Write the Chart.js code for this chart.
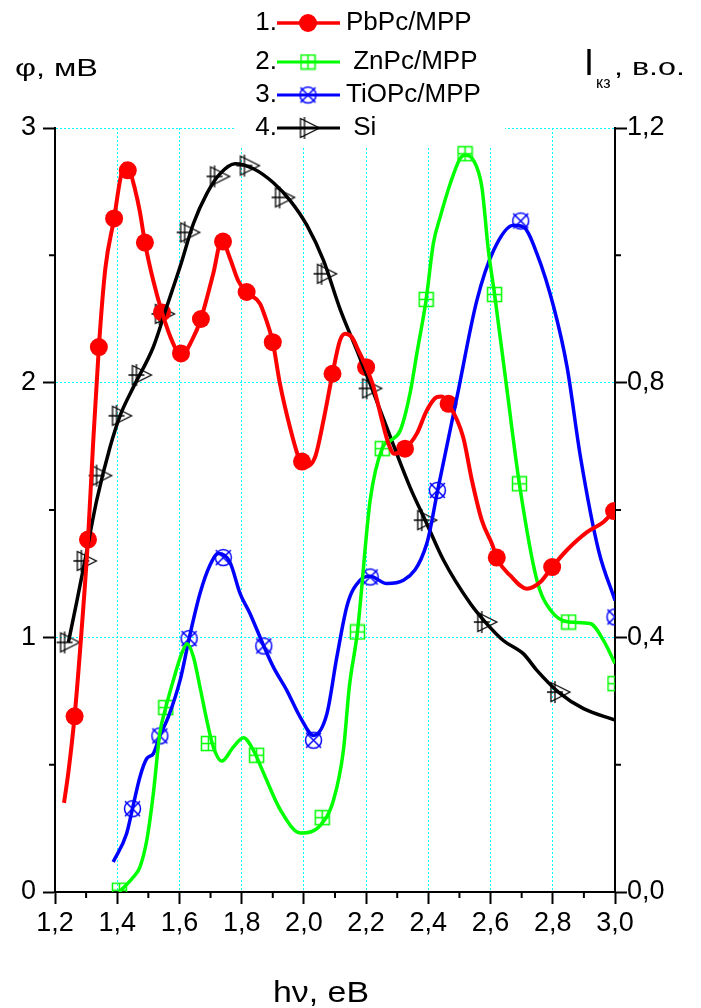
<!DOCTYPE html>
<html>
<head>
<meta charset="utf-8">
<title>hv spectra</title>
<script src="https://cdn.jsdelivr.net/npm/chart.js"></script>
<style>
body{margin:0;background:#fff;}
#wrap{width:701px;height:1008px;}
</style>
</head>
<body>
<div id="wrap"><canvas id="myChart" width="701" height="1008"></canvas></div>
<script>
// 1. PbPc/MPP  (phi, mV)
const pbMarkX = [1.263,1.306,1.341,1.390,1.434,1.489,1.544,1.605,1.669,1.740,1.816,1.900,1.994,2.092,2.200,2.325,2.465,2.620,2.798,2.997];
const pbMarkY = [0.69,1.384,2.14,2.645,2.834,2.55,2.276,2.115,2.25,2.554,2.356,2.159,1.69,2.035,2.061,1.741,1.917,1.313,1.276,1.496];
const pbLineX = [1.229,1.243,1.263,1.285,1.306,1.322,1.341,1.362,1.390,1.410,1.425,1.437,1.455,1.473,1.489,1.516,1.544,1.580,1.605,1.640,1.669,1.709,1.736,1.762,1.789,1.816,1.859,1.875,1.900,1.923,1.955,1.985,2.004,2.036,2.063,2.092,2.116,2.133,2.154,2.175,2.200,2.224,2.251,2.272,2.290,2.325,2.363,2.395,2.427,2.443,2.465,2.512,2.540,2.572,2.604,2.625,2.663,2.717,2.760,2.798,2.845,2.910,2.963,3.0];
const pbLineY = [0.35,0.47,0.69,1.02,1.384,1.75,2.14,2.45,2.645,2.80,2.86,2.845,2.77,2.67,2.55,2.40,2.276,2.153,2.105,2.166,2.25,2.43,2.56,2.49,2.40,2.356,2.31,2.26,2.159,1.996,1.826,1.70,1.669,1.708,1.852,2.035,2.166,2.192,2.179,2.127,2.061,1.983,1.852,1.76,1.721,1.741,1.80,1.891,1.943,1.946,1.917,1.786,1.617,1.459,1.368,1.30,1.243,1.191,1.217,1.276,1.342,1.413,1.453,1.50];

// 2. ZnPc/MPP
const znMarkX = [1.407,1.556,1.693,1.848,2.059,2.172,2.252,2.393,2.518,2.613,2.693,2.851,3.0];
const znMarkY = [0.007,0.724,0.583,0.537,0.292,1.021,1.741,2.327,2.899,2.346,1.603,1.06,0.818];
const znLineX = [1.406,1.452,1.473,1.495,1.516,1.537,1.556,1.580,1.607,1.625,1.645,1.666,1.688,1.709,1.736,1.773,1.806,1.838,1.871,1.925,1.989,2.053,2.095,2.127,2.146,2.172,2.213,2.252,2.280,2.310,2.341,2.363,2.393,2.416,2.438,2.470,2.502,2.518,2.545,2.572,2.593,2.613,2.653,2.693,2.749,2.793,2.851,2.920,2.963,3.0];
const znLineY = [0.0,0.059,0.098,0.203,0.386,0.623,0.724,0.83,0.936,0.975,0.923,0.805,0.674,0.569,0.514,0.569,0.606,0.556,0.465,0.321,0.232,0.262,0.36,0.556,0.805,1.021,1.538,1.743,1.774,1.813,1.957,2.114,2.327,2.546,2.65,2.78,2.88,2.893,2.873,2.768,2.52,2.346,1.97,1.60,1.224,1.106,1.06,1.054,0.988,0.897];

// 3. TiOPc/MPP
const tiMarkX = [1.449,1.537,1.631,1.741,1.871,2.031,2.213,2.429,2.697,3.0];
const tiMarkY = [0.327,0.613,0.995,1.313,0.966,0.596,1.237,1.577,2.635,1.08];
const tiLineX = [1.387,1.430,1.449,1.473,1.495,1.516,1.537,1.564,1.602,1.631,1.666,1.698,1.725,1.762,1.795,1.827,1.871,1.902,1.945,1.988,2.031,2.074,2.106,2.140,2.180,2.213,2.266,2.320,2.395,2.430,2.492,2.556,2.610,2.674,2.706,2.749,2.803,2.846,2.889,2.947,3.0];
const tiLineY = [0.118,0.229,0.327,0.452,0.524,0.543,0.613,0.687,0.831,0.995,1.172,1.283,1.329,1.296,1.172,1.093,0.966,0.883,0.792,0.687,0.615,0.70,0.923,1.13,1.224,1.24,1.211,1.224,1.368,1.577,1.943,2.323,2.52,2.618,2.611,2.507,2.297,2.061,1.708,1.342,1.145];

// 4. Si  (I_kz, rel. units, right axis)
const siMarkX = [1.242,1.296,1.345,1.409,1.473,1.547,1.628,1.724,1.820,1.933,2.068,2.213,2.390,2.583,2.818];
const siMarkY = [0.392,0.520,0.654,0.748,0.812,0.908,1.036,1.124,1.141,1.091,0.971,0.791,0.584,0.424,0.314];
const siLineX = [1.243,1.270,1.296,1.334,1.377,1.409,1.452,1.516,1.559,1.602,1.645,1.688,1.730,1.779,1.838,1.902,1.956,2.010,2.063,2.116,2.170,2.213,2.266,2.341,2.390,2.449,2.535,2.583,2.641,2.706,2.749,2.818,2.899,3.0];
const siLineY = [0.392,0.456,0.520,0.615,0.699,0.748,0.793,0.856,0.919,0.982,1.050,1.097,1.128,1.144,1.136,1.114,1.086,1.047,0.992,0.916,0.851,0.798,0.730,0.636,0.584,0.521,0.453,0.424,0.395,0.374,0.348,0.314,0.288,0.270];

const xTicks = [1.2,3.0,0.2];     // min, max, step
const phiTicks = [0,3,1];
const iTicks = [0,1.2,0.4];
const names = ['PbPc/MPP',' ZnPc/MPP','TiOPc/MPP',' Si'];

const FONT = "'Liberation Sans', Arial, sans-serif";
const RED = '#ff0000', GREEN = '#00ff00', BLUE = '#0000ff', BLACK = '#000000', CYAN = '#00ffff';

function pts(xs, ys){
	return xs.map(function(x, i){ return {x: x, y: ys[i]}; });
}
function comma(v, d){
	return Number(v).toFixed(d).replace('.', ',');
}
function marker(w, h, draw){
	const c = document.createElement('canvas');
	c.width = w; c.height = h;
	const g = c.getContext('2d');
	draw(g);
	return c;
}
// text squeezed/stretched to a given width (the titles of the original are wide)
function wideText(ctx, txt, x, y, w){
	const k = w / ctx.measureText(txt).width;
	ctx.save();
	ctx.translate(x, y);
	ctx.scale(k, 1);
	ctx.fillText(txt, 0, 0);
	ctx.restore();
}

// marker glyphs
const mkZn = marker(17, 17, function(g){
	g.strokeStyle = GREEN; g.lineWidth = 1.5;
	g.strokeRect(1.5, 1.5, 14, 14);
	g.beginPath();
	g.moveTo(8.5, 1.5); g.lineTo(8.5, 15.5);
	g.moveTo(1.5, 8.5); g.lineTo(15.5, 8.5);
	g.stroke();
});
const mkTi = marker(21, 21, function(g){
	g.strokeStyle = BLUE; g.lineWidth = 1.5;
	g.beginPath(); g.arc(10.5, 10.5, 8, 0, Math.PI*2); g.stroke();
	g.beginPath();
	g.moveTo(3, 3); g.lineTo(18, 18);
	g.moveTo(18, 3); g.lineTo(3, 18);
	g.stroke();
});
const mkSi = marker(27, 24, function(g){
	g.strokeStyle = BLACK; g.lineWidth = 1.3;
	g.beginPath();
	g.moveTo(2, 12); g.lineTo(18, 12);
	g.moveTo(10, 1); g.lineTo(10, 23);
	g.stroke();
	g.beginPath();
	g.moveTo(6, 2.5); g.lineTo(25, 12); g.lineTo(6, 21.5); g.closePath();
	g.stroke();
});

function lineSet(xs, ys, color, w, axis){
	return {
		type: 'line', data: pts(xs, ys), yAxisID: axis,
		borderColor: color, borderWidth: w, pointRadius: 0,
		tension: 0.4, cubicInterpolationMode: 'monotone', fill: false
	};
}
function markSet(xs, ys, style, color, r, axis){
	return {
		type: 'scatter', data: pts(xs, ys), yAxisID: axis,
		pointStyle: style, pointRadius: r, borderWidth: 0,
		backgroundColor: color, borderColor: color
	};
}

const legendRows = [
	{y: 23, color: RED, w: 3.5, mk: null},
	{y: 62, color: GREEN, w: 3, mk: mkZn},
	{y: 95, color: BLUE, w: 3, mk: mkTi},
	{y: 128, color: BLACK, w: 3, mk: mkSi}
];

const decor = {
	id: 'decor',
	beforeDatasetsDraw(chart){
		const ctx = chart.ctx;
		ctx.save();
		ctx.fillStyle = '#fff';
		ctx.fillRect(236, 0, 269, 148);
		ctx.restore();
	},
	afterDraw(chart){
		const ctx = chart.ctx;
		const a = chart.chartArea;
		const sx = chart.scales.x, sy = chart.scales.y, sy1 = chart.scales.y1;
		ctx.save();
		// minor ticks
		ctx.strokeStyle = BLACK; ctx.lineWidth = 2;
		ctx.beginPath();
		for (let v = 1.3; v < 3.0; v += 0.2){
			const px = sx.getPixelForValue(v);
			ctx.moveTo(px, a.bottom); ctx.lineTo(px, a.bottom + 6);
		}
		[0.5, 1.5, 2.5].forEach(function(v){
			const py = sy.getPixelForValue(v);
			ctx.moveTo(a.left - 6, py); ctx.lineTo(a.left, py);
		});
		[0.2, 0.6, 1.0].forEach(function(v){
			const py = sy1.getPixelForValue(v);
			ctx.moveTo(a.right, py); ctx.lineTo(a.right + 6, py);
		});
		ctx.stroke();

		// legend
		ctx.textBaseline = 'middle';
		ctx.font = '26px ' + FONT;
		ctx.fillStyle = BLACK;
		legendRows.forEach(function(r, i){
			ctx.textAlign = 'right';
			ctx.fillText((i + 1) + '.', 277, r.y);
			ctx.strokeStyle = r.color; ctx.lineWidth = r.w;
			ctx.beginPath(); ctx.moveTo(277, r.y); ctx.lineTo(340, r.y); ctx.stroke();
			if (r.mk){
				ctx.drawImage(r.mk, 308 - r.mk.width/2, r.y - r.mk.height/2);
			} else {
				ctx.fillStyle = r.color;
				ctx.beginPath(); ctx.arc(308, r.y, 9, 0, Math.PI*2); ctx.fill();
				ctx.fillStyle = BLACK;
			}
			ctx.textAlign = 'left';
			ctx.fillText(names[i], 346, r.y);
		});

		// axis titles
		ctx.textBaseline = 'alphabetic';
		ctx.textAlign = 'left';
		ctx.font = '23px ' + FONT;
		wideText(ctx, '\u03c6, мВ', 15, 76, 83);
		ctx.font = '36px ' + FONT;
		ctx.fillText('I', 584, 75);
		ctx.font = '23px ' + FONT;
		wideText(ctx, ', в.о.', 614, 75, 71);
		ctx.font = '16px ' + FONT;
		ctx.fillText('кз', 596, 88);
		ctx.font = '30px ' + FONT;
		wideText(ctx, 'h\u03bd, eB', 273, 1002, 96);
		ctx.restore();
	}
};

document.addEventListener('DOMContentLoaded', function(){
	Chart.defaults.font.family = FONT;
	Chart.defaults.font.size = 27;
	Chart.defaults.color = BLACK;

	const ctx = document.getElementById('myChart');
	const chart = new Chart(ctx, {
		data: {
			datasets: [
				lineSet(pbLineX, pbLineY, RED, 4, 'y'),
				lineSet(znLineX, znLineY, GREEN, 3.5, 'y'),
				lineSet(tiLineX, tiLineY, BLUE, 3.5, 'y'),
				lineSet(siLineX, siLineY, BLACK, 3.5, 'y1'),
				markSet(pbMarkX, pbMarkY, 'circle', RED, 9, 'y'),
				markSet(znMarkX, znMarkY, mkZn, GREEN, 8, 'y'),
				markSet(tiMarkX, tiMarkY, mkTi, BLUE, 9, 'y'),
				markSet(siMarkX, siMarkY, mkSi, BLACK, 10, 'y1')
			]
		},
		options: {
			responsive: false,
			animation: false,
			layout: {padding: {top: 128, left: 0, right: 0, bottom: 0}},
			plugins: {legend: {display: false}, tooltip: {enabled: false}},
			scales: {
				x: {
					type: 'linear', position: 'bottom',
					min: xTicks[0], max: xTicks[1],
					ticks: {stepSize: xTicks[2], padding: 3, maxRotation: 0, autoSkip: false,
						callback: function(v){ return comma(v, 1); }},
					grid: {color: CYAN, lineWidth: 1, tickColor: BLACK, tickLength: 12, tickWidth: 2},
					border: {color: BLACK, width: 2, dash: [2, 2]},
					afterFit: function(s){ s.height = 116; }
				},
				y: {
					type: 'linear', position: 'left',
					min: phiTicks[0], max: phiTicks[1],
					ticks: {stepSize: phiTicks[2], padding: 7,
						callback: function(v){ return String(Math.round(v)); }},
					grid: {color: CYAN, lineWidth: 1, tickColor: BLACK, tickLength: 12, tickWidth: 2},
					border: {color: BLACK, width: 2, dash: [2, 2]},
					afterFit: function(s){ s.width = 55; }
				},
				y1: {
					type: 'linear', position: 'right',
					min: iTicks[0], max: iTicks[1],
					ticks: {stepSize: iTicks[2], padding: 0,
						callback: function(v){ return comma(v, 1); }},
					grid: {drawOnChartArea: false, tickColor: BLACK, tickLength: 12, tickWidth: 2},
					border: {color: BLACK, width: 2},
					afterFit: function(s){ s.width = 86; }
				}
			}
		},
		plugins: [decor]
	});
});
</script>
</body>
</html>
